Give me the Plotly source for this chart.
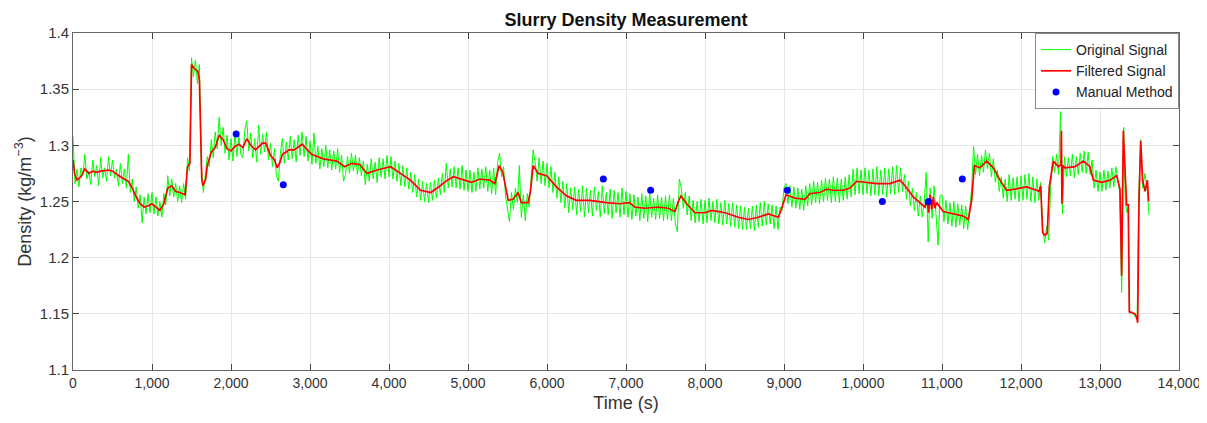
import plotly.graph_objects as go

# ---------------- data ----------------
filtered_t = [0, 20, 50, 100, 150, 200, 250, 300, 350, 450, 500, 600, 700, 750, 800, 850, 900, 950,
              1000, 1050, 1100, 1150, 1200, 1250, 1300, 1350, 1420, 1450, 1480, 1500, 1540, 1580, 1600,
              1630, 1645, 1680, 1700, 1750, 1800, 1850, 1900, 1950, 2000, 2050, 2100, 2150, 2200, 2250,
              2310, 2400, 2440, 2500, 2550, 2585, 2620, 2650, 2700, 2730, 2800, 2900, 3020, 3170, 3340,
              3440, 3525, 3630, 3720, 3850, 4020, 4145, 4270, 4400, 4530, 4630, 4740, 4815, 4940, 5045,
              5150, 5275, 5340, 5395, 5440, 5510, 5570, 5635, 5675, 5760, 5790, 5825, 5890, 5995, 6120,
              6245, 6370, 6540, 6750, 6920, 7045, 7114, 7240, 7409, 7536, 7620, 7662, 7696, 7768, 7873,
              8000, 8085, 8254, 8422, 8549, 8675, 8802, 8929, 8971, 9026, 9140, 9267, 9329, 9456, 9540,
              9624, 9751, 9835, 9920, 10046, 10173, 10342, 10468, 10532, 10637, 10785, 10810, 10830,
              10850, 10870, 10890, 10910, 10932, 11017, 11143, 11270, 11333, 11375, 11409, 11481, 11565,
              11650, 11734, 11818, 11924, 12071, 12198, 12228, 12249, 12274, 12304, 12333, 12358, 12409,
              12473, 12505, 12512, 12518, 12530, 12557, 12684, 12789, 12873, 12916, 13021, 13127, 13211,
              13253, 13274, 13295, 13337, 13358, 13371, 13443, 13464, 13477, 13494, 13515, 13540, 13570,
              13600, 13615]
filtered_y = [1.287, 1.275, 1.269, 1.272, 1.279, 1.275, 1.277, 1.276, 1.277, 1.278, 1.277, 1.272, 1.268,
              1.262, 1.254, 1.248, 1.245, 1.246, 1.248, 1.245, 1.242, 1.248, 1.262, 1.264, 1.259, 1.258,
              1.256, 1.281, 1.284, 1.372, 1.368, 1.366, 1.358, 1.270, 1.264, 1.270, 1.282, 1.294, 1.298,
              1.309, 1.305, 1.297, 1.295, 1.299, 1.301, 1.298, 1.306, 1.300, 1.296, 1.302, 1.302, 1.291,
              1.287, 1.280, 1.285, 1.292, 1.294, 1.296, 1.296, 1.301, 1.292, 1.288, 1.286, 1.281, 1.284,
              1.283, 1.275, 1.278, 1.281, 1.275, 1.269, 1.260, 1.258, 1.263, 1.269, 1.272, 1.269, 1.267,
              1.270, 1.269, 1.266, 1.282, 1.276, 1.251, 1.252, 1.258, 1.249, 1.249, 1.259, 1.282, 1.275,
              1.273, 1.263, 1.255, 1.251, 1.251, 1.249, 1.248, 1.249, 1.245, 1.244, 1.245, 1.244, 1.241,
              1.250, 1.255, 1.248, 1.240, 1.240, 1.242, 1.240, 1.236, 1.234, 1.236, 1.239, 1.236, 1.244,
              1.256, 1.253, 1.252, 1.257, 1.258, 1.261, 1.260, 1.260, 1.262, 1.268, 1.267, 1.266, 1.266,
              1.269, 1.264, 1.254, 1.245, 1.252, 1.240, 1.256, 1.243, 1.254, 1.244, 1.249, 1.241, 1.239,
              1.237, 1.234, 1.251, 1.282, 1.280, 1.286, 1.280, 1.269, 1.260, 1.261, 1.263, 1.260, 1.259,
              1.264, 1.222, 1.220, 1.222, 1.263, 1.286, 1.281, 1.283, 1.313, 1.248, 1.282, 1.280, 1.281,
              1.286, 1.281, 1.269, 1.267, 1.269, 1.273, 1.261, 1.184, 1.313, 1.247, 1.247, 1.152, 1.150,
              1.147, 1.142, 1.251, 1.304, 1.269, 1.259, 1.269, 1.250]

# raw signal: one reading every 25 s up to 13,250 s, then the individual readings of the final spikes
original_t = list(range(0, 13251, 25)) + [13274, 13285, 13300, 13320, 13340, 13358, 13372, 13400,
                                           13440, 13470, 13490, 13515, 13540, 13570, 13600, 13620]
original_y = [
    1.308, 1.266, 1.279, 1.263, 1.280, 1.273, 1.292, 1.270, 1.277, 1.265, 1.287, 1.272, 1.282, 1.264, 1.289, 1.271, 1.280, 1.268, 1.290, 1.273,
    1.287, 1.271, 1.279, 1.264, 1.284, 1.266, 1.279, 1.262, 1.292, 1.258, 1.270, 1.250, 1.263, 1.244, 1.256, 1.231, 1.254, 1.239, 1.257, 1.240,
    1.258, 1.239, 1.254, 1.237, 1.250, 1.236, 1.257, 1.247, 1.273, 1.255, 1.270, 1.254, 1.266, 1.250, 1.264, 1.249, 1.266, 1.252, 1.289, 1.277,
    1.378, 1.361, 1.376, 1.355, 1.372, 1.280, 1.258, 1.276, 1.290, 1.281, 1.305, 1.289, 1.312, 1.297, 1.325, 1.300, 1.316, 1.293, 1.309, 1.287,
    1.306, 1.286, 1.311, 1.290, 1.308, 1.292, 1.289, 1.314, 1.322, 1.295, 1.311, 1.289, 1.306, 1.285, 1.318, 1.292, 1.310, 1.294, 1.312, 1.287,
    1.302, 1.281, 1.297, 1.273, 1.268, 1.293, 1.306, 1.284, 1.303, 1.287, 1.308, 1.288, 1.305, 1.285, 1.309, 1.291, 1.312, 1.290, 1.308, 1.286,
    1.304, 1.283, 1.311, 1.284, 1.299, 1.279, 1.297, 1.281, 1.300, 1.280, 1.296, 1.278, 1.295, 1.279, 1.297, 1.276, 1.291, 1.268, 1.274, 1.290,
    1.275, 1.293, 1.277, 1.291, 1.274, 1.289, 1.273, 1.286, 1.265, 1.283, 1.268, 1.288, 1.270, 1.285, 1.267, 1.289, 1.272, 1.288, 1.270, 1.291,
    1.272, 1.290, 1.270, 1.286, 1.268, 1.284, 1.264, 1.282, 1.263, 1.280, 1.261, 1.276, 1.258, 1.274, 1.254, 1.270, 1.251, 1.268, 1.250, 1.266,
    1.249, 1.267, 1.251, 1.269, 1.253, 1.271, 1.256, 1.275, 1.258, 1.284, 1.262, 1.279, 1.263, 1.281, 1.262, 1.280, 1.261, 1.282, 1.260, 1.278,
    1.259, 1.278, 1.258, 1.276, 1.259, 1.280, 1.261, 1.279, 1.262, 1.281, 1.259, 1.278, 1.257, 1.280, 1.256, 1.285, 1.293, 1.272, 1.281, 1.255,
    1.243, 1.232, 1.258, 1.243, 1.262, 1.249, 1.282, 1.236, 1.256, 1.233, 1.257, 1.245, 1.272, 1.296, 1.285, 1.268, 1.289, 1.266, 1.286, 1.264,
    1.284, 1.262, 1.281, 1.258, 1.276, 1.253, 1.272, 1.249, 1.268, 1.244, 1.266, 1.240, 1.262, 1.243, 1.263, 1.238, 1.261, 1.241, 1.264, 1.236,
    1.262, 1.240, 1.260, 1.237, 1.263, 1.242, 1.259, 1.236, 1.264, 1.239, 1.258, 1.238, 1.261, 1.235, 1.260, 1.240, 1.258, 1.236, 1.262, 1.238,
    1.259, 1.236, 1.257, 1.234, 1.256, 1.237, 1.254, 1.233, 1.257, 1.235, 1.255, 1.232, 1.258, 1.236, 1.253, 1.234, 1.256, 1.235, 1.254, 1.233,
    1.255, 1.234, 1.256, 1.233, 1.253, 1.230, 1.223, 1.270, 1.262, 1.244, 1.258, 1.238, 1.255, 1.233, 1.251, 1.231, 1.250, 1.232, 1.252, 1.230,
    1.251, 1.231, 1.253, 1.233, 1.250, 1.231, 1.252, 1.230, 1.249, 1.229, 1.251, 1.230, 1.248, 1.228, 1.249, 1.227, 1.247, 1.226, 1.246, 1.225,
    1.245, 1.225, 1.244, 1.226, 1.246, 1.224, 1.247, 1.227, 1.249, 1.228, 1.250, 1.229, 1.248, 1.230, 1.247, 1.226, 1.246, 1.225, 1.245, 1.242,
    1.262, 1.266, 1.248, 1.264, 1.245, 1.263, 1.244, 1.262, 1.243, 1.261, 1.242, 1.264, 1.246, 1.266, 1.247, 1.268, 1.249, 1.267, 1.248, 1.269,
    1.250, 1.271, 1.251, 1.270, 1.249, 1.272, 1.250, 1.271, 1.249, 1.270, 1.251, 1.272, 1.252, 1.274, 1.254, 1.279, 1.256, 1.280, 1.257, 1.278,
    1.256, 1.280, 1.257, 1.278, 1.255, 1.279, 1.256, 1.281, 1.255, 1.278, 1.256, 1.280, 1.254, 1.279, 1.257, 1.281, 1.256, 1.282, 1.258, 1.280,
    1.259, 1.274, 1.252, 1.268, 1.246, 1.262, 1.242, 1.258, 1.237, 1.255, 1.236, 1.250, 1.276, 1.214, 1.262, 1.235, 1.264, 1.240, 1.211, 1.255,
    1.256, 1.232, 1.251, 1.230, 1.249, 1.228, 1.250, 1.227, 1.248, 1.229, 1.247, 1.226, 1.246, 1.225, 1.245, 1.262, 1.299, 1.274, 1.292, 1.273,
    1.291, 1.276, 1.296, 1.279, 1.293, 1.272, 1.288, 1.267, 1.278, 1.259, 1.272, 1.253, 1.270, 1.250, 1.274, 1.251, 1.271, 1.252, 1.272, 1.250,
    1.273, 1.251, 1.274, 1.252, 1.275, 1.250, 1.272, 1.249, 1.270, 1.251, 1.267, 1.226, 1.213, 1.228, 1.216, 1.262, 1.290, 1.276, 1.292, 1.274,
    1.330, 1.239, 1.290, 1.272, 1.289, 1.273, 1.292, 1.271, 1.290, 1.274, 1.293, 1.276, 1.295, 1.275, 1.294, 1.274, 1.287, 1.262, 1.278, 1.259,
    1.276, 1.259, 1.278, 1.260, 1.277, 1.262, 1.280, 1.263, 1.281, 1.270, 1.258,
    1.169, 1.230, 1.316, 1.250, 1.240, 1.245, 1.150, 1.152, 1.148, 1.145, 1.255, 1.305, 1.262, 1.275, 1.258, 1.238]

manual_t = [2065, 2662, 6713, 7312, 9042, 10245, 10827, 11257]
manual_y = [1.31, 1.265, 1.27, 1.26, 1.26, 1.25, 1.25, 1.27]

x_tick_vals = [0, 1000, 2000, 3000, 4000, 5000, 6000, 7000, 8000, 9000, 10000, 11000, 12000, 13000, 14000]
x_tick_text = ["0", "1,000", "2,000", "3,000", "4,000", "5,000", "6,000", "7,000", "8,000", "9,000",
               "1,0000", "11,000", "12,000", "13,000", "14,000"]
y_tick_vals = [1.1, 1.15, 1.2, 1.25, 1.3, 1.35, 1.4]
y_tick_text = ["1.1", "1.15", "1.2", "1.25", "1.3", "1.35", "1.4"]

FONT = "Liberation Sans, Arial, sans-serif"

# ---------------- figure ----------------
fig = go.Figure()
fig.add_trace(go.Scatter(x=original_t, y=original_y, mode="lines", name="Original Signal",
                         line=dict(color="#00ff00", width=1)))
fig.add_trace(go.Scatter(x=filtered_t, y=filtered_y, mode="lines", name="Filtered Signal",
                         line=dict(color="#ff0000", width=1.7)))
fig.add_trace(go.Scatter(x=manual_t, y=manual_y, mode="markers", name="Manual Method",
                         marker=dict(color="#0000ff", size=7)))

axis_common = dict(showline=True, linecolor="#666666", linewidth=1, mirror="ticks",
                   ticks="inside", ticklen=6, tickcolor="#444444",
                   showgrid=True, gridcolor="#e6e6e6", gridwidth=1, zeroline=False,
                   automargin=False)

# the page body adds an 8 px offset, so the figure is sized to end at the window's right edge
fig.update_layout(
    width=1191, height=415,
    margin=dict(l=65, r=20, t=25, b=53, autoexpand=False),
    paper_bgcolor="white", plot_bgcolor="white",
    title=dict(text="<b>Slurry Density Measurement</b>", x=0.5, xanchor="center",
               xref="paper", y=0.971, yanchor="middle",
               font=dict(family=FONT, size=18, color="#111111")),
    xaxis=dict(range=[0, 14000], tickvals=x_tick_vals, ticktext=x_tick_text,
               ticklabeloverflow="allow",
               tickfont=dict(family=FONT, size=14, color="#333333"),
               title=dict(text="Time (s)", standoff=6,
                          font=dict(family=FONT, size=18, color="#333333")),
               **axis_common),
    yaxis=dict(range=[1.1, 1.4], tickvals=y_tick_vals, ticktext=y_tick_text,
               tickfont=dict(family=FONT, size=15, color="#333333"),
               title=dict(text="Density (kg/m<sup>−3</sup>)", standoff=3,
                          font=dict(family=FONT, size=18, color="#333333")),
               **axis_common),
    legend=dict(x=1, y=1, xanchor="right", yanchor="top", bgcolor="white",
                bordercolor="#888888", borderwidth=1,
                font=dict(family=FONT, size=14, color="#222222"),
                tracegroupgap=0, itemwidth=30),
    showlegend=True,
)

fig.write_html("out.html")
